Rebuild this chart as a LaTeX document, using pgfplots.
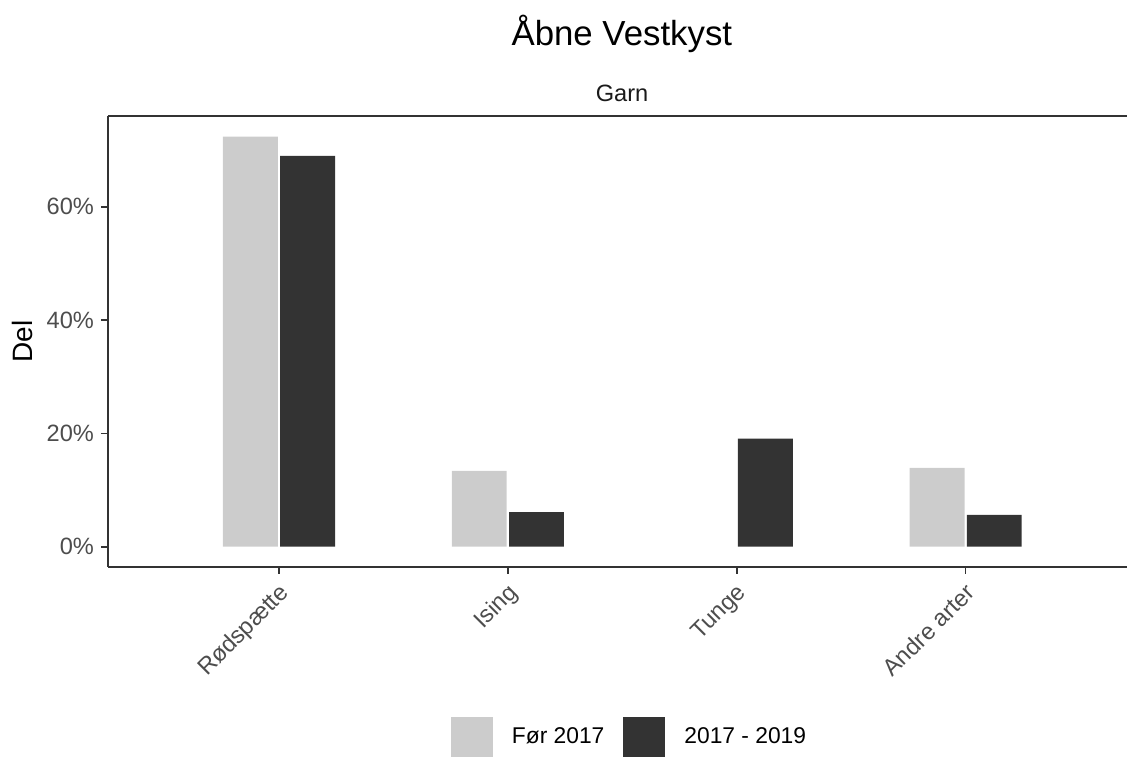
\documentclass[border=0pt]{standalone}
\usepackage{pgfplots}
\pgfplotsset{compat=1.18}
\usepackage{fontspec}
\setmainfont{Liberation Sans}

\definecolor{lightbar}{HTML}{CCCCCC}
\definecolor{darkbar}{HTML}{333333}
\definecolor{ticktext}{HTML}{4D4D4D}
\definecolor{frame}{HTML}{333333}

% shares per species, in percent
\pgfplotstableread{
x share
1 72.4
2 13.4
4 13.9
}\foer
\pgfplotstableread{
x share
1 69.0
2 6.1
3 19.1
4 5.6
}\nyere

\begin{document}
\begin{tikzpicture}
\useasboundingbox (-54pt,-94.65pt) rectangle (509.5pt,283.35pt);
\begin{axis}[
    at={(0,0)}, anchor=south west,
    scale only axis, width=509.5pt, height=225.35pt,
    xmin=0.253, xmax=4.705, ymin=-3.53, ymax=76.03,
    axis lines*=left,
    axis line style={frame, line width=0.8pt, -},
    tick align=outside,
    major tick length=3.5pt,
    tick style={frame, line width=0.8pt},
    xtick={1,2,3,4},
    xticklabels={Rødspætte, Ising, Tunge, Andre arter},
    ytick={0,20,40,60},
    yticklabels={0\%, 20\%, 40\%, 60\%},
    ticklabel style={font=\fontsize{11.8}{14}\selectfont, text=ticktext},
    xticklabel style={rotate=45, anchor=north east, yshift=1pt},
    legend columns=2,
    legend style={draw=none, fill=none, at={(0.5108,0)}, anchor=center,
      yshift=-85.4pt, column sep=0pt,
      font=\fontsize{11.4}{14}\selectfont,
      nodes={inner sep=0pt},
      /tikz/every even column/.append style={column sep=9.5pt},
      /tikz/every odd column/.append style={column sep=9.5pt}},
  ]
  \addplot[ybar, bar width=0.24, bar shift=-0.125, fill=lightbar, draw=none,
    legend image code/.code={\fill[lightbar] (0pt,-10.5pt) rectangle (21pt,10.5pt);}]
    table[x=x, y=share] {\foer};
  \addlegendentry{Før 2017}
  \addplot[ybar, bar width=0.24, bar shift=0.125, fill=darkbar, draw=none,
    legend image code/.code={\fill[darkbar] (0pt,-10.5pt) rectangle (21pt,10.5pt);}]
    table[x=x, y=share] {\nyere};
  \addlegendentry{2017 - 2019}
  \draw[frame, line width=0.8pt] (rel axis cs:0,1) -- (rel axis cs:1,1);
\end{axis}
\node[anchor=base, font=\fontsize{17.4}{20}\selectfont] at (256.9pt,260.35pt) {Åbne Vestkyst};
\node[anchor=base, font=\fontsize{11.8}{14}\selectfont, text={rgb,255:red,26;green,26;blue,26}] at (257pt,232.5pt) {Garn};
\node[rotate=90, inner sep=0pt, font=\fontsize{14}{17}\selectfont] at (-42.75pt,112.7pt) {Del};
\end{tikzpicture}
\end{document}
